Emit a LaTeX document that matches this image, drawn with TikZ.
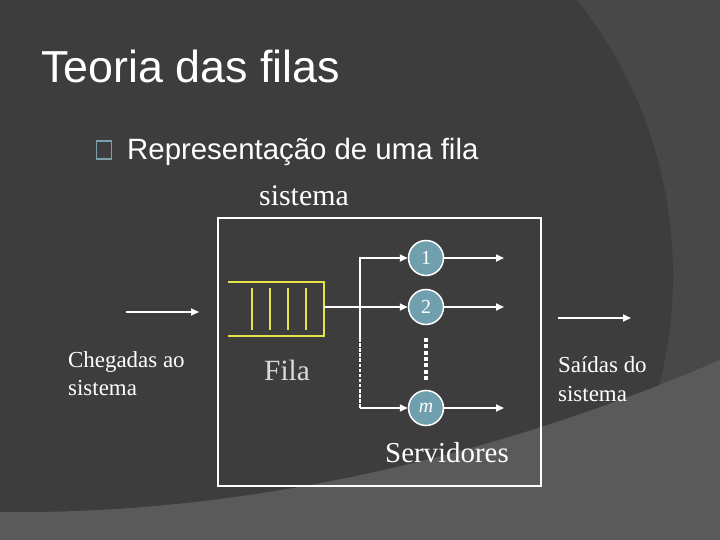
\documentclass[tikz,border=0pt]{standalone}
\usepackage{fontspec}
\setmainfont{Liberation Serif}
\newfontfamily\arialf{Liberation Sans}
\usetikzlibrary{arrows.meta}
\definecolor{bgdark}{RGB}{61,61,61}
\definecolor{bgmid}{RGB}{72,72,72}
\definecolor{bglight}{RGB}{90,90,90}
\definecolor{bulletc}{RGB}{122,160,170}
\definecolor{servfill}{RGB}{112,160,174}
\definecolor{queuey}{RGB}{228,228,72}
\definecolor{filagray}{RGB}{218,218,218}
\tikzset{
  conn/.style={draw=white, line width=1.7bp, -{Triangle[length=8bp,width=7bp]}},
  server/.style={circle, draw=white, line width=1.5bp, fill=servfill, minimum size=35bp, inner sep=0pt, text=white, font=\fontsize{20}{24}\selectfont},
  queueline/.style={draw=queuey, line width=2.8bp},
  lbl/.style={text=white, inner sep=0pt},
}
\begin{document}
\begin{tikzpicture}[x=1bp,y=-1bp]
\useasboundingbox (0,0) rectangle (720,540);
\clip (0,0) rectangle (720,540);
% background
\fill[bgmid] (0,0) rectangle (720,540);
\fill[bgdark] (231,275) circle[radius=442bp];
\fill[bglight] (0,512) .. controls (250,515) and (500,455) .. (720,360) -- (720,540) -- (0,540) -- cycle;

% title and bullet
\node[lbl, anchor=base west, font=\arialf\fontsize{45}{54}\selectfont] (title) at (41,83) {Teoria das filas};
\node[draw=bulletc, line width=1.5bp, minimum width=15bp, minimum height=18bp, inner sep=0pt] (bullet) at (104,150) {};
\node[lbl, anchor=base west, font=\arialf\fontsize{29.5}{35}\selectfont] (sub) at (127,160) {Representação de uma fila};

% system box
\node[lbl, anchor=base, font=\fontsize{30}{36}\selectfont] (sislbl) at (304,206) {sistema};
\node[draw=white, line width=2bp, minimum width=323bp, minimum height=268bp, anchor=north west, inner sep=0pt] (sys) at (217,217) {};

% queue
\draw[queueline] (228,282) -- (324,282) -- (324,336) -- (228,336);
\foreach \x in {252,270,288,306} \draw[queueline] (\x,288) -- (\x,330);
\coordinate (qout) at (324,307);
\node[lbl, text=filagray, anchor=base west, font=\fontsize{29.5}{35}\selectfont] (fila) at (264,380) {Fila};

% servers
\node[server] (s1) at (426,258) {1};
\node[server] (s2) at (426,307) {2};
\node[server] (sm) at (426,408) {\textit{m}};
\node[lbl, anchor=base west, font=\fontsize{29}{35}\selectfont] (serv) at (385,462) {Servidores};

% distribution
\coordinate (vtop) at (360,258);
\coordinate (vmid) at (360,338);
\coordinate (vbot) at (360,408);
\draw[conn] (qout) -- (s2);
\draw[conn] (vmid) -- (vtop) -- (s1);
\draw[white, line width=1.7bp, dash pattern=on 3.5bp off 1.6bp] (vmid) -- (vbot);
\draw[conn] (vbot) -- (sm);
\coordinate (d1) at (426,338);
\coordinate (d2) at (426,382);
\draw[white, line width=4.5bp, dash pattern=on 4bp off 2.3bp] (d1) -- (d2);

% outputs
\coordinate (o1) at (504,258);
\coordinate (o2) at (504,307);
\coordinate (om) at (504,408);
\draw[conn] (s1) -- (o1);
\draw[conn] (s2) -- (o2);
\draw[conn] (sm) -- (om);

% arrivals and departures
\coordinate (in1) at (126,312);
\coordinate (in2) at (199,312);
\draw[conn] (in1) -- (in2);
\node[lbl, anchor=base west, align=left, font=\fontsize{23}{28}\selectfont] (cheg) at (68,395) {Chegadas ao\\sistema};
\coordinate (out1) at (558,318);
\coordinate (out2) at (631,318);
\draw[conn] (out1) -- (out2);
\node[lbl, anchor=base west, align=left, font=\fontsize{23}{29}\selectfont] (said) at (558,401) {Saídas do\\sistema};
\end{tikzpicture}
\end{document}
